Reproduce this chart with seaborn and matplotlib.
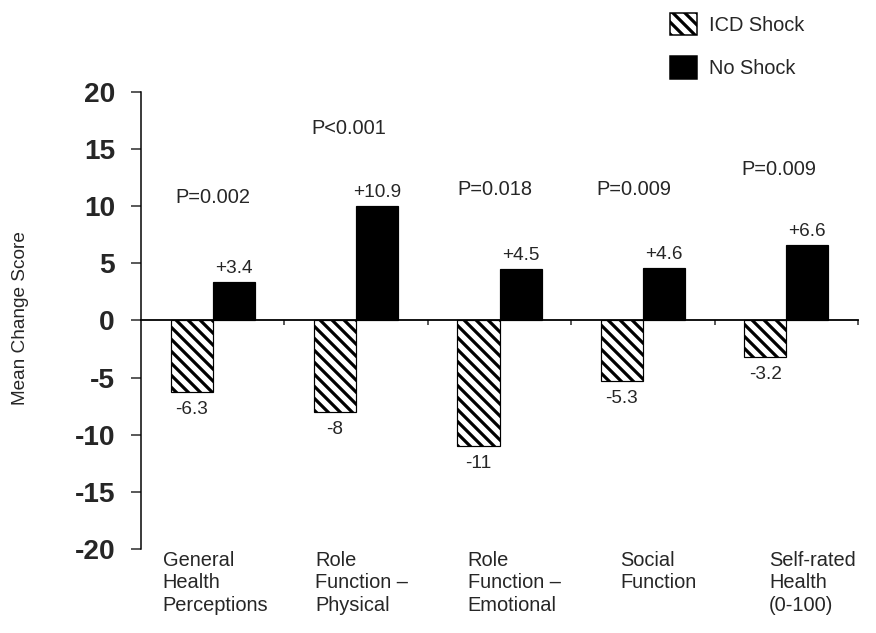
import matplotlib
matplotlib.use("Agg")
import matplotlib.pyplot as plt
from matplotlib.patches import Patch
import seaborn as sns
import pandas as pd

# ---- data ----
categories = ["General\nHealth\nPerceptions", "Role\nFunction –\nPhysical",
              "Role\nFunction –\nEmotional", "Social\nFunction",
              "Self-rated\nHealth\n(0-100)"]
groups = ["ICD Shock", "No Shock"]
icd_shock = [-6.3, -8.0, -11.0, -5.3, -3.2]
no_shock = [3.4, 10.0, 4.5, 4.6, 6.6]
icd_labels = ["-6.3", "-8", "-11", "-5.3", "-3.2"]
no_labels = ["+3.4", "+10.9", "+4.5", "+4.6", "+6.6"]
p_labels = ["P=0.002", "P<0.001", "P=0.018", "P=0.009", "P=0.009"]
p_heights = [10.8, 16.8, 11.5, 11.5, 13.2]
yticks = [-20, -15, -10, -5, 0, 5, 10, 15, 20]

# ---- layout constants ----
p_dx = [0.0, -0.05, -0.03, -0.06, -0.05]
label_dx = [-0.349, -0.286, -0.223, -0.160, -0.119]

sns.set_style("white")
plt.rcParams["font.family"] = ["Liberation Sans", "DejaVu Sans"]
plt.rcParams["axes.unicode_minus"] = False
plt.rcParams["hatch.linewidth"] = 3.2

DPI = 72
fig = plt.figure(figsize=(876 / DPI, 633 / DPI), dpi=DPI)
fig.patch.set_facecolor("white")
ax = fig.add_axes([141 / 876, 1 - 549 / 633, 717 / 876, 457 / 633])

df = pd.DataFrame({
    "category": categories * 2,
    "group": [groups[0]] * len(categories) + [groups[1]] * len(categories),
    "value": icd_shock + no_shock,
})

sns.barplot(data=df, x="category", y="value", hue="group", order=categories,
            hue_order=groups, palette={groups[0]: "white", groups[1]: "black"},
            width=0.586, gap=0, errorbar=None, edgecolor="black", linewidth=1.2,
            legend=False, ax=ax, saturation=1)

for bar in ax.containers[0]:
    bar.set_hatch("\\\\")
    bar.set_facecolor("white")
    bar.set_edgecolor("black")

ax.bar_label(ax.containers[1], labels=no_labels, padding=5, fontsize=19)
ax.bar_label(ax.containers[0], labels=icd_labels, padding=9, fontsize=19)

for i, (lab, h) in enumerate(zip(p_labels, p_heights)):
    ax.text(i + p_dx[i], h, lab, ha="center", va="center", fontsize=20)

for i, lab in enumerate(categories):
    ax.text(i + label_dx[i], -20.15, lab, ha="left", va="top", fontsize=20,
            linespacing=1.25)

ax.set_xlim(-0.5, len(categories) - 0.5)
ax.set_ylim(-20, 20)
ax.set_yticks(yticks)
ax.set_yticklabels([str(t) for t in yticks], fontweight="bold")
ax.tick_params(axis="y", direction="out", length=10, width=1.5, pad=16,
               labelsize=28, left=True)
ax.set_xticks(range(len(categories)))
ax.tick_params(axis="x", which="major", length=0, labelbottom=False)
ax.set_xticks([i + 0.5 for i in range(len(categories))], minor=True)
ax.tick_params(axis="x", which="minor", direction="out", length=5, width=1.5,
               bottom=True)

ax.spines["top"].set_visible(False)
ax.spines["right"].set_visible(False)
ax.spines["bottom"].set_position(("data", 0))
ax.spines["bottom"].set_linewidth(1.8)
ax.spines["left"].set_linewidth(1.5)
ax.spines["left"].set_color("black")
ax.spines["bottom"].set_color("black")

ax.set_xlabel("")
ax.set_ylabel("Mean Change Score", fontsize=19)
ax.yaxis.set_label_coords(-0.156, 0.505)

handles = [Patch(facecolor="white", edgecolor="black", hatch="\\\\", linewidth=1.5),
           Patch(facecolor="black", edgecolor="black", linewidth=1.5)]
fig.legend(handles, groups, loc="upper left", bbox_to_anchor=(670 / 876, 1 - 13 / 633),
           frameon=False, fontsize=20, handlelength=1.35, handleheight=1.35,
           handletextpad=0.6, labelspacing=1.05, borderpad=0, borderaxespad=0)

fig.savefig("out.png", dpi=DPI, facecolor="white")
